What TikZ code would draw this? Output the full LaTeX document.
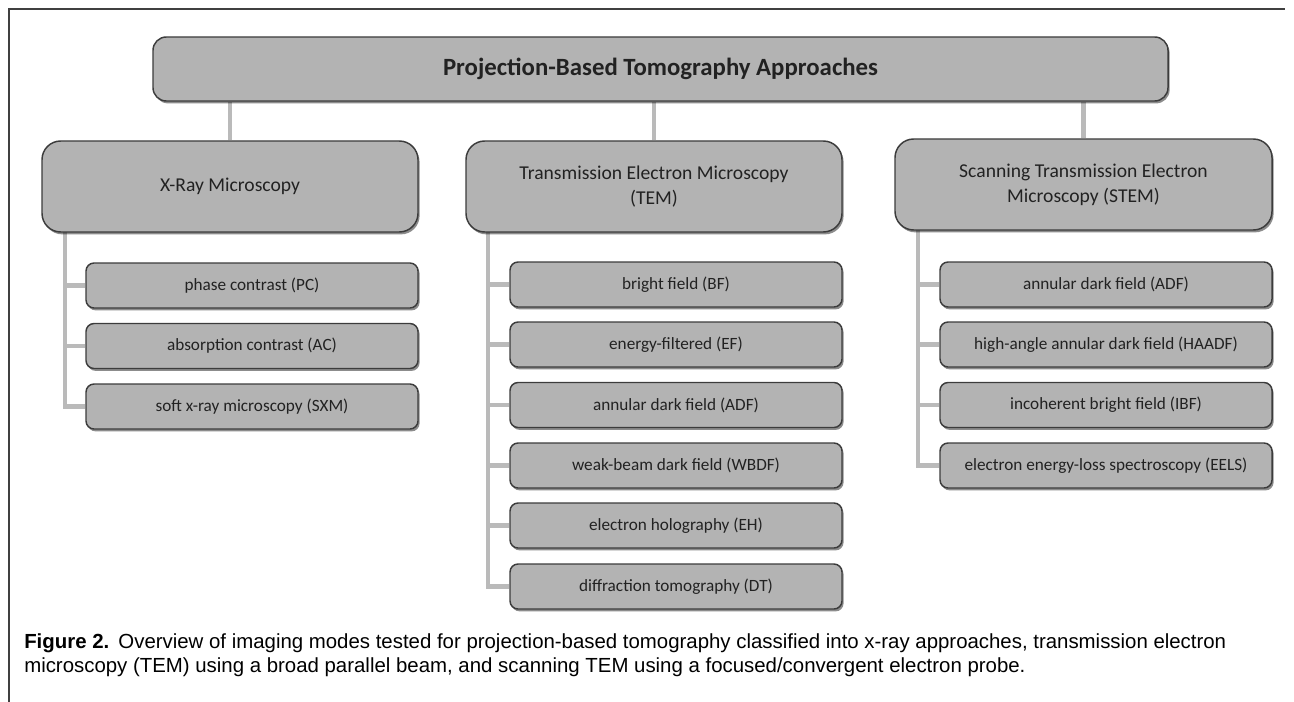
\documentclass[tikz,border=0pt]{standalone}
\usepackage{fontspec}
\setmainfont{Carlito}
\newfontfamily\capfont{Liberation Sans}
\usetikzlibrary{shadows,backgrounds,positioning}
\definecolor{boxfill}{HTML}{B3B3B3}
\definecolor{boxline}{HTML}{3C3C3C}
\definecolor{connc}{HTML}{BABABA}
\definecolor{txtc}{HTML}{222222}
\tikzset{
  basebox/.style={draw=boxline, fill=boxfill, line width=1.1pt, inner sep=0pt, text=txtc, align=center,
    drop shadow={shadow xshift=1.2pt, shadow yshift=-1.8pt, opacity=0.45, fill=black}},
  topbox/.style={basebox, rounded corners=10pt, minimum width=1015*0.75pt, minimum height=64*0.75pt, font=\fontsize{18.6}{20}\selectfont\bfseries},
  midbox/.style={basebox, rounded corners=14pt, minimum width=376*0.75pt, minimum height=91*0.75pt, font=\fontsize{14.7}{19}\selectfont},
  leafbox/.style={basebox, rounded corners=6pt, minimum width=332*0.75pt, minimum height=45*0.75pt, font=\fontsize{12.9}{14}\selectfont},
  conn/.style={draw=connc, line width=3.6pt},
}
\begin{document}
\begin{tikzpicture}[x=0.75pt, y=-0.75pt]
\useasboundingbox (0,0) rectangle (1294,702);
\draw[line width=0.9pt, black!75] (9,702) -- (9,9) -- (1285,9);
% top
\node[topbox] (top) at (660.5,69) {Projection-Based Tomography Approaches};
% level 2
\node[midbox] (xr) at (230,186.5) {X-Ray Microscopy};
\node[midbox] (tem) at (654,186.5) {Transmission Electron Microscopy\\(TEM)};
\node[midbox, minimum width=377*0.75pt] (stem) at (1083.5,184.5) {Scanning Transmission Electron\\Microscopy (STEM)};
% x-ray leaves
\node[leafbox] (pc) at (252,285.5) {phase contrast (PC)};
\node[leafbox] (ac) at (252,346) {absorption contrast (AC)};
\node[leafbox] (sxm) at (252,406.5) {soft x-ray microscopy (SXM)};
% TEM leaves
\node[leafbox] (bf) at (676,284.5) {bright field (BF)};
\node[leafbox] (ef) at (676,344.5) {energy-filtered (EF)};
\node[leafbox] (tadf) at (676,405) {annular dark field (ADF)};
\node[leafbox] (wbdf) at (676,465.5) {weak-beam dark field (WBDF)};
\node[leafbox] (eh) at (676,525.5) {electron holography (EH)};
\node[leafbox] (dt) at (676,586.5) {diffraction tomography (DT)};
% STEM leaves
\node[leafbox] (sadf) at (1106,284.5) {annular dark field (ADF)};
\node[leafbox] (haadf) at (1106,344.5) {high-angle annular dark field (HAADF)};
\node[leafbox] (ibf) at (1106,405) {incoherent bright field (IBF)};
\node[leafbox] (eels) at (1106,465.5) {electron energy-loss spectroscopy (EELS)};
% connector anchors
\coordinate (xrT) at (65,232);
\coordinate (temT) at (488,232);
\coordinate (stemT) at (918,229);
\begin{scope}[on background layer]
\draw[conn] (xr.north) -- (xr.north |- top.south);
\draw[conn] (tem.north) -- (tem.north |- top.south);
\draw[conn] (stem.north) -- (stem.north |- top.south);
\draw[conn] (xrT) |- (sxm.west);
\draw[conn] (xrT |- pc.west) -- (pc.west);
\draw[conn] (xrT |- ac.west) -- (ac.west);
\draw[conn] (temT) |- (dt.west);
\foreach \n in {bf,ef,tadf,wbdf,eh} \draw[conn] (temT |- \n.west) -- (\n.west);
\draw[conn] (stemT) |- (eels.west);
\foreach \n in {sadf,haadf,ibf} \draw[conn] (stemT |- \n.west) -- (\n.west);
\end{scope}
% caption
\node[anchor=base west, inner sep=0pt, font=\capfont\fontsize{15.3}{18}\selectfont] (cap1) at (24,648)
  {\textbf{Figure 2.}\hspace{0.45em}Overview of imaging modes tested for projection-based tomography classified into x-ray approaches, transmission electron};
\node[anchor=base west, inner sep=0pt, font=\capfont\fontsize{15.3}{18}\selectfont] (cap2) at (24,672)
  {microscopy (TEM) using a broad parallel beam, and scanning TEM using a focused/convergent electron probe.};
\end{tikzpicture}
\end{document}
